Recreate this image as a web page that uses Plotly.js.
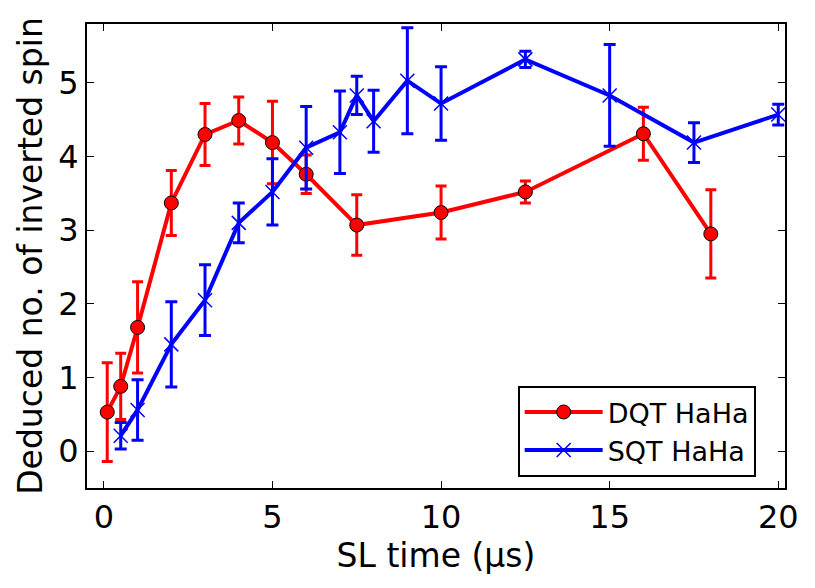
<!DOCTYPE html>
<html>
<head>
<meta charset="utf-8">
<script src="https://cdn.plot.ly/plotly-3.0.1.min.js"></script>
<style>html,body{margin:0;padding:0;background:#fff;}</style>
</head>
<body>
<div id="chart" style="width:815px;height:588px;"></div>
<script>
// DQT HaHa
const dqtX = [0.1, 0.5, 1, 2, 3, 4, 5, 6, 7.5, 10, 12.5, 16, 18];
const dqtY = [0.53, 0.88, 1.68, 3.37, 4.30, 4.49, 4.19, 3.76, 3.07, 3.24, 3.52, 4.31, 2.95];
const dqtErr = [0.67, 0.45, 0.62, 0.44, 0.42, 0.32, 0.56, 0.26, 0.41, 0.36, 0.15, 0.36, 0.60];
// SQT HaHa
const sqtX = [0.5, 1, 2, 3, 4, 5, 6, 7, 7.5, 8, 9, 10, 12.5, 15, 17.5, 20];
const sqtY = [0.21, 0.56, 1.45, 2.05, 3.10, 3.52, 4.12, 4.33, 4.83, 4.48, 5.03, 4.72, 5.32, 4.83, 4.19, 4.57];
const sqtErr = [0.18, 0.41, 0.58, 0.48, 0.27, 0.45, 0.56, 0.56, 0.26, 0.42, 0.72, 0.50, 0.11, 0.69, 0.27, 0.14];
const xTicks = [0, 5, 10, 15, 20];
const yTicks = [0, 1, 2, 3, 4, 5];

const FONT = "DejaVu Sans";
const traces = [
  {
    x: dqtX, y: dqtY, name: "DQT HaHa", type: "scatter", mode: "lines+markers",
    line: {color: "#ff0000", width: 4},
    marker: {symbol: "circle", size: 14, color: "#ff0000", line: {color: "#000", width: 1}},
    error_y: {type: "data", array: dqtErr, visible: true, color: "#ff0000", thickness: 3, width: 5.5}
  },
  {
    x: sqtX, y: sqtY, name: "SQT HaHa", type: "scatter", mode: "lines+markers",
    line: {color: "#0000ff", width: 4},
    marker: {symbol: "x-thin", size: 14, color: "#0000ff", line: {color: "#0000ff", width: 1.5}},
    error_y: {type: "data", array: sqtErr, visible: true, color: "#0000ff", thickness: 3, width: 6}
  }
];

const axisCommon = {
  showgrid: false, zeroline: false, showline: true, linecolor: "#000", linewidth: 2,
  mirror: "ticks", ticks: "inside", ticklen: 7, tickwidth: 1, tickcolor: "#000",
  tickfont: {family: FONT, size: 32, color: "#000"}
};

const layout = {
  width: 815, height: 588,
  margin: {l: 87, r: 30, t: 24, b: 100},
  paper_bgcolor: "#fff", plot_bgcolor: "#fff",
  font: {family: FONT, size: 32, color: "#000"},
  xaxis: Object.assign({}, axisCommon, {
    range: [-0.5, 20.2], tickvals: xTicks, ticktext: xTicks.map(String),
    title: {text: "SL time (μs)", font: {family: FONT, size: 33, color: "#000"}, standoff: 6}
  }),
  yaxis: Object.assign({}, axisCommon, {
    range: [-0.5, 5.8], tickvals: yTicks, ticktext: yTicks.map(String),
    title: {text: "Deduced no. of inverted spin", font: {family: FONT, size: 33, color: "#000"}, standoff: 6}
  }),
  showlegend: true,
  legend: {
    x: 0.617, y: 0.22, xanchor: "left", yanchor: "top",
    bgcolor: "#fff", bordercolor: "#000", borderwidth: 2,
    font: {family: FONT, size: 27, color: "#000"},
    itemwidth: 78
  }
};

Plotly.newPlot("chart", traces, layout, {displayModeBar: false, staticPlot: true});
</script>
</body>
</html>
